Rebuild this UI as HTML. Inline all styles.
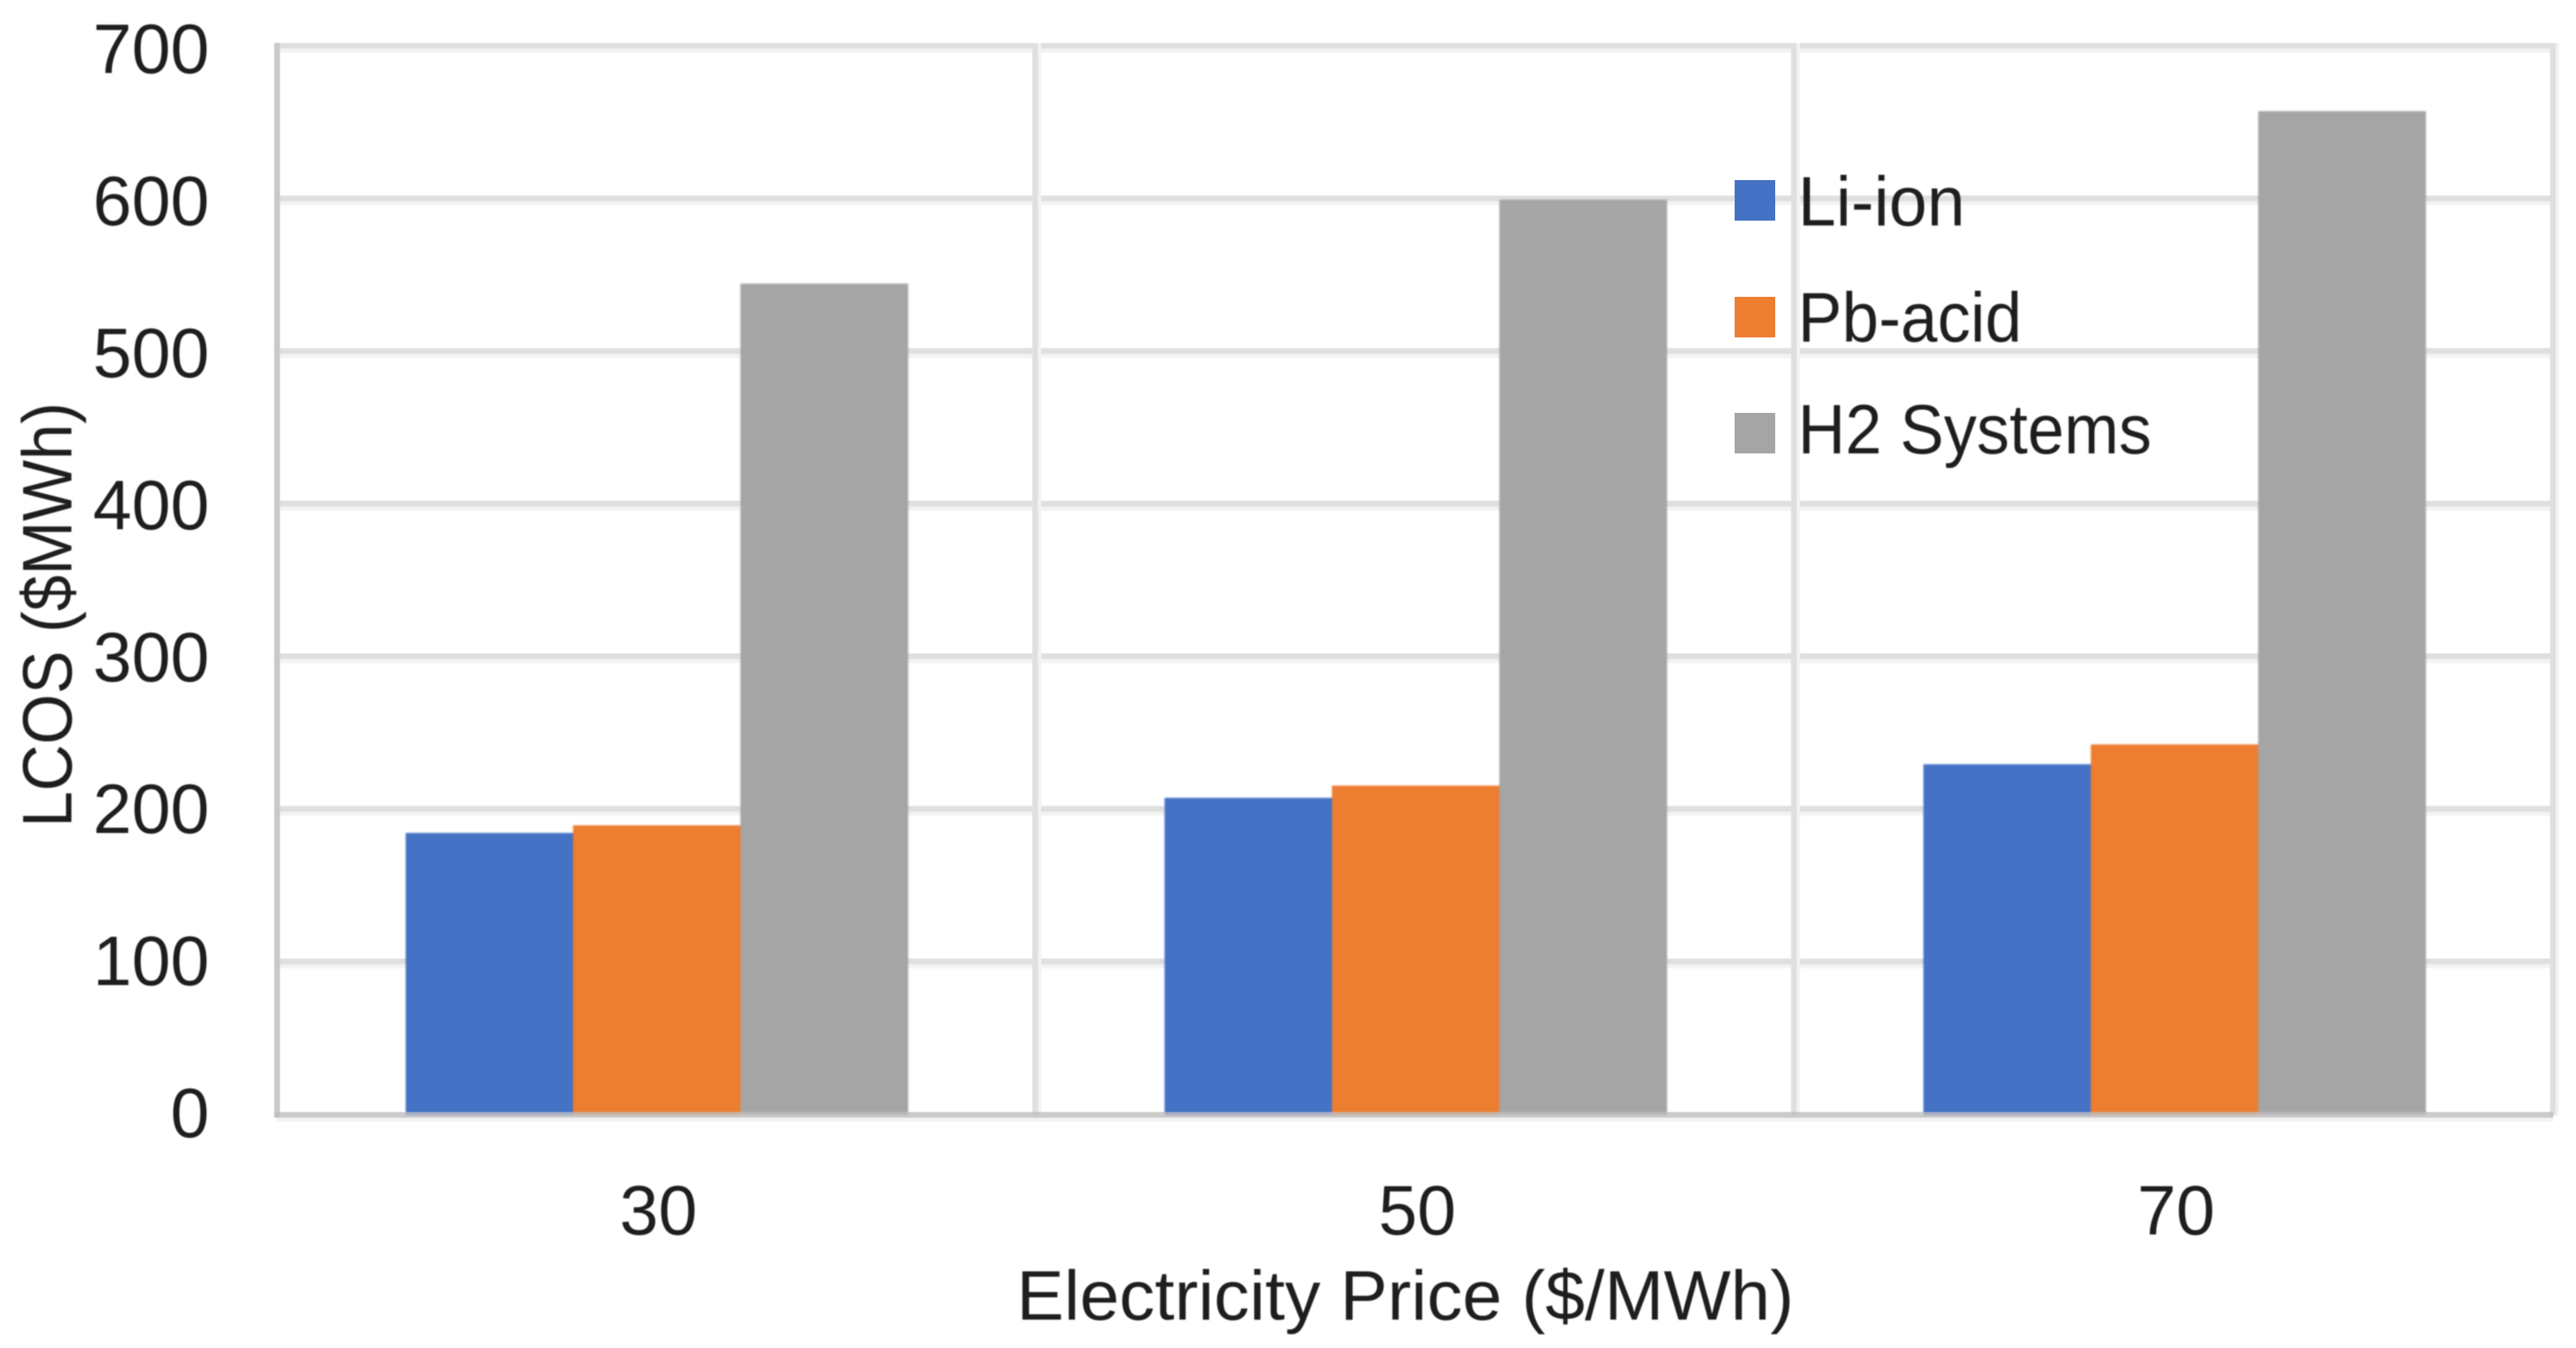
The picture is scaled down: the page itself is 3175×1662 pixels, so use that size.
<!DOCTYPE html>
<html lang="en">
<head>
<meta charset="utf-8">
<title>LCOS vs Electricity Price</title>
<style>
  html, body { margin: 0; padding: 0; background: #fff; }
  svg { display: block; }
  text { font-family: "Liberation Sans", sans-serif; fill: #1e1e1e; }
</style>
</head>
<body>
<svg id="chart" xmlns="http://www.w3.org/2000/svg" width="3175" height="1662" viewBox="0 0 3175 1662">
  <rect x="0" y="0" width="3175" height="1662" fill="#ffffff"/>
  <g id="grid" style="filter:blur(0.6px)"></g>
  <g id="bars" style="filter:blur(1px)"></g>
  <g id="axes" style="filter:blur(0.6px)"></g>
  <g id="labels" style="filter:blur(0.7px)"></g>

  <g>
    <rect x="2138" y="222" width="50" height="50" fill="#4472c4"/>
    <rect x="2138" y="366" width="50" height="50" fill="#ed7d31"/>
    <rect x="2138" y="509" width="50" height="50" fill="#a5a5a5"/>
    <g style="filter:blur(0.7px)">
      <text x="2216" y="278" font-size="86" textLength="206" lengthAdjust="spacingAndGlyphs">Li-ion</text>
      <text x="2216" y="421" font-size="86" textLength="276" lengthAdjust="spacingAndGlyphs">Pb-acid</text>
      <text x="2216" y="559" font-size="86" textLength="436" lengthAdjust="spacingAndGlyphs">H2 Systems</text>
    </g>
  </g>

  <g style="filter:blur(0.7px)">
    <text x="1253" y="1627" font-size="86" textLength="958" lengthAdjust="spacingAndGlyphs">Electricity Price ($/MWh)</text>
    <text transform="translate(88,1020) rotate(-90)" x="0" y="0" font-size="86" textLength="524" lengthAdjust="spacingAndGlyphs">LCOS ($MWh)</text>
  </g>
</svg>

<script>
const categories = ['30', '50', '70'];
const liIon = [185, 208, 230];
const pbAcid = [190, 216, 243];
const h2Systems = [545, 600, 658];
const yTicks = [0, 100, 200, 300, 400, 500, 600, 700];

const NS = 'http://www.w3.org/2000/svg';
const plotLeft = 341;
const plotRight = 3147;
const plotBottom = 1375;
const plotTop = 58;
const yMax = 700;
const bandWidth = (plotRight - plotLeft) / categories.length;
const barWidth = 206.3;
const barOffset = 159;

function yScale(v) {
  return plotBottom - v * (plotBottom - plotTop) / yMax;
}
function yLabelBaseline(v) {
  return 1402 - v * 1.874;
}
function bandLeft(i) {
  return plotLeft + i * bandWidth;
}
function makeRect(parent, x, y, w, h, fill) {
  const r = document.createElementNS(NS, 'rect');
  r.setAttribute('x', x);
  r.setAttribute('y', y);
  r.setAttribute('width', w);
  r.setAttribute('height', h);
  r.setAttribute('fill', fill);
  parent.appendChild(r);
  return r;
}
function makeText(parent, x, y, anchor, content) {
  const t = document.createElementNS(NS, 'text');
  t.setAttribute('x', x);
  t.setAttribute('y', y);
  t.setAttribute('font-size', '86');
  t.setAttribute('text-anchor', anchor);
  t.textContent = content;
  parent.appendChild(t);
  return t;
}

const gridGroup = document.getElementById('grid');
const barsGroup = document.getElementById('bars');
const axesGroup = document.getElementById('axes');
const labelsGroup = document.getElementById('labels');

/* horizontal gridlines and y tick labels */
yTicks.forEach(function (v) {
  const y = yScale(v);
  if (v > 0) {
    const soft = makeRect(gridGroup, plotLeft, y - 5, plotRight - plotLeft + 3, 12, '#f3f3f3');
    
    
    const core = makeRect(gridGroup, plotLeft, y - 5, plotRight - plotLeft + 3, 7, '#dfdfdf');
    
    
  }
  const label = makeText(labelsGroup, 258, yLabelBaseline(v), 'end', String(v));
  
  
});

/* vertical gridlines */
categories.forEach(function (c, i) {
  const x = bandLeft(i + 1);
  const soft = makeRect(gridGroup, x - 4, plotTop - 5, 11, plotBottom - plotTop + 5, '#f3f3f3');
  
  
  const core = makeRect(gridGroup, x - 4, plotTop - 5, 7, plotBottom - plotTop + 5, '#dfdfdf');
  
  
});

/* bars */
function drawSeries(values, seriesIndex, fill, seriesName) {
  values.forEach(function (v, i) {
    const x = bandLeft(i) + barOffset + seriesIndex * barWidth;
    const y = yScale(v);
    const bar = makeRect(barsGroup, x, y, barWidth + 0.5, plotBottom - y, fill);
    
    
  });
}
drawSeries(liIon, 0, '#4472c4', 'li-ion');
drawSeries(pbAcid, 1, '#ed7d31', 'pb-acid');
drawSeries(h2Systems, 2, '#a5a5a5', 'h2-systems');

/* axis lines */
const yAxisLine = makeRect(axesGroup, 338, plotTop - 5, 7, plotBottom - plotTop + 8, '#c9c9c9');


const xAxisGlow = makeRect(axesGroup, 341, plotBottom + 2, plotRight - plotLeft, 6, 'rgba(200,200,200,0.22)');


const xAxisLine = makeRect(axesGroup, 338, plotBottom - 4, plotRight - 338, 7, 'rgba(190,190,190,0.8)');



/* x tick labels */
categories.forEach(function (c, i) {
  const x = bandLeft(i) + barOffset + 1.5 * barWidth + 2;
  const label = makeText(labelsGroup, x, 1522, 'middle', c);
  
  
});
</script>
</body>
</html>
